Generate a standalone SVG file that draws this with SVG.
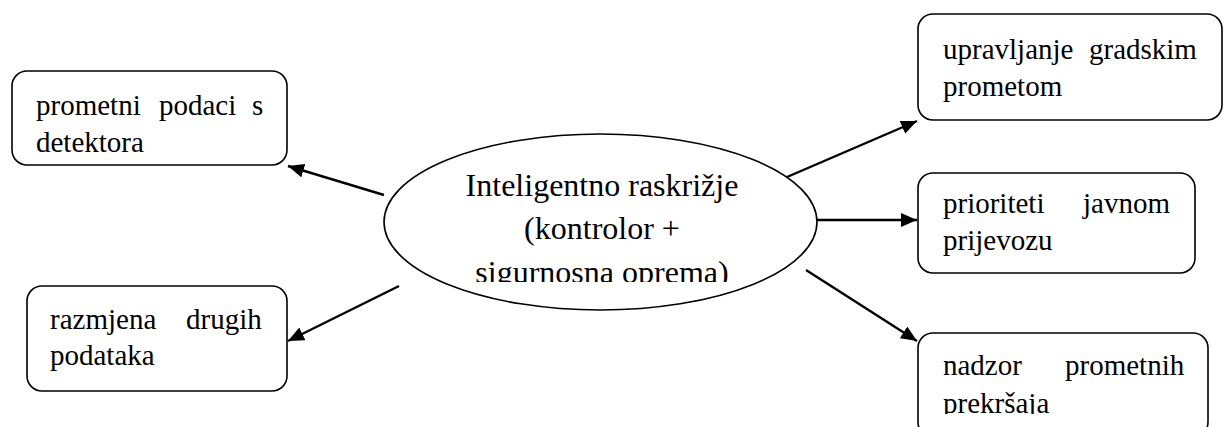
<svg xmlns="http://www.w3.org/2000/svg" width="1224" height="427" viewBox="0 0 1224 427">
<style>
.box{fill:#fff;stroke:#000;stroke-width:1.6}
.t{font-family:"Liberation Serif","Times New Roman",serif;font-size:29px;fill:#000}
.c{font-family:"Liberation Serif","Times New Roman",serif;font-size:32px;fill:#000;text-anchor:middle}
.ln{stroke:#000;stroke-width:2.4;fill:none}
</style>
<defs>
<marker id="ah" markerUnits="userSpaceOnUse" markerWidth="17" markerHeight="15" refX="16" refY="7" orient="auto">
<path d="M0,0 L16,7 L0,14 z" fill="#000"/>
</marker>
<clipPath id="clipC"><rect x="0" y="0" width="1224" height="282"/></clipPath>
<clipPath id="clipBoxC"><rect x="0" y="0" width="1224" height="414"/></clipPath>
</defs>
<rect width="1224" height="427" fill="#fff"/>
<g id="connectors">
<line class="ln" x1="384" y1="195" x2="288" y2="166" marker-end="url(#ah)"/>
<line class="ln" x1="399" y1="286" x2="288" y2="341" marker-end="url(#ah)"/>
<line class="ln" x1="787" y1="177" x2="917" y2="121" marker-end="url(#ah)"/>
<line class="ln" x1="817" y1="220" x2="917" y2="220" marker-end="url(#ah)"/>
<line class="ln" x1="806" y1="270" x2="917" y2="341" marker-end="url(#ah)"/>
</g>
<g id="center">
<ellipse cx="600.5" cy="222" rx="216.5" ry="88" fill="#fff" stroke="#000" stroke-width="1.6"/>
<g clip-path="url(#clipC)">
<text class="c" x="602" y="196">Inteligentno raskrižje</text>
<text class="c" x="602" y="239">(kontrolor +</text>
<text class="c" x="602" y="283">sigurnosna oprema)</text>
</g>
</g>
<g id="node-detektori">
<rect class="box" x="12" y="71" width="275" height="94" rx="15"/>
<text class="t" y="115"><tspan x="36">prometni</tspan><tspan x="159">podaci</tspan><tspan x="252">s</tspan></text>
<text class="t" x="36" y="151.5">detektora</text>
</g>
<g id="node-razmjena">
<rect class="box" x="27" y="286" width="260" height="105" rx="15"/>
<text class="t" y="329"><tspan x="50">razmjena</tspan><tspan x="186">drugih</tspan></text>
<text class="t" x="50" y="365">podataka</text>
</g>
<g id="node-upravljanje">
<rect class="box" x="918" y="14" width="304" height="106" rx="15"/>
<text class="t" y="59"><tspan x="943">upravljanje</tspan><tspan x="1089">gradskim</tspan></text>
<text class="t" x="943" y="96">prometom</text>
</g>
<g id="node-prioriteti">
<rect class="box" x="918" y="173" width="277" height="100" rx="15"/>
<text class="t" y="213"><tspan x="943">prioriteti</tspan><tspan x="1083">javnom</tspan></text>
<text class="t" x="943" y="250">prijevozu</text>
</g>
<g id="node-nadzor">
<rect class="box" x="918" y="333" width="290" height="104" rx="15"/>
<text class="t" y="375"><tspan x="943">nadzor</tspan><tspan x="1065">prometnih</tspan></text>
<text class="t" x="943" y="413" clip-path="url(#clipBoxC)">prekršaja</text>
</g>
</svg>
